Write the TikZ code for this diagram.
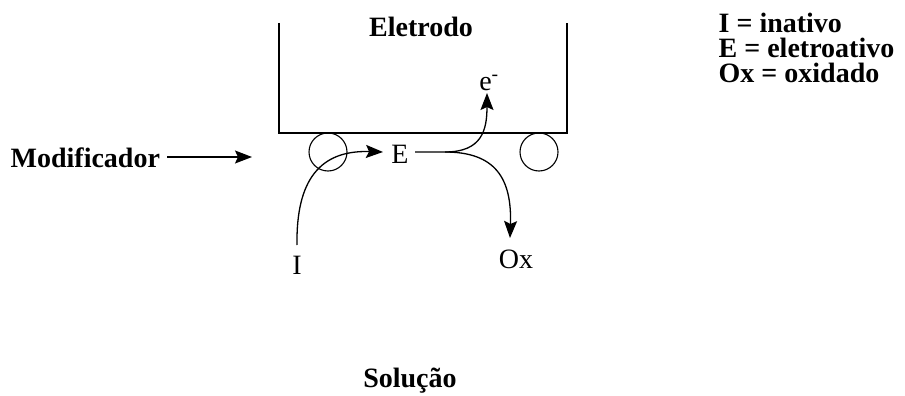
\documentclass[tikz,border=0pt]{standalone}
\usepackage{fontspec}
\setmainfont{Liberation Serif}
\usetikzlibrary{arrows.meta}
\begin{document}
\begin{tikzpicture}[x=1pt,y=-1pt,
  line width=1.3pt,
  bl/.style={font=\fontsize{28}{25}\selectfont\bfseries, inner sep=0pt},
  rl/.style={font=\fontsize{28}{25}\selectfont, inner sep=0pt},
  arr/.style={-{Stealth[length=17pt,width=13pt,inset=3pt]}},
  part/.style={draw, circle, minimum size=38pt, inner sep=0pt, line width=1.1pt}]
\useasboundingbox (0,0) rectangle (905,396);
% electrode
\coordinate (eTL) at (279,23);
\coordinate (eBL) at (279,133);
\coordinate (eBR) at (567,133);
\coordinate (eTR) at (567,23);
\draw (eTL) -- (eBL) -- (eBR) -- (eTR);
\node[bl, anchor=base] (eletrodo) at (421,37) {Eletrodo};
% particles
\node[part] (c1) at (328,152) {};
\node[part] (c2) at (539,152) {};
% labels
\node[bl, anchor=base west] (modif) at (10,167) {Modificador};
\coordinate (modstart) at (167,157);
\coordinate (modend) at (252,157);
\draw[arr] (modstart) -- (modend);
\node[rl, anchor=base] (E) at (400,163) {E};
\node[rl, anchor=base] (em) at (489,90) {e\textsuperscript{-}};
\node[rl, anchor=base] (I) at (297,274) {I};
\node[rl, anchor=base] (Ox) at (516,268) {Ox};
\node[bl, anchor=base west] (leg1) at (718,33) {I = inativo};
\node[bl, anchor=base west] (leg2) at (718,58) {E = eletroativo};
\node[bl, anchor=base west] (leg3) at (718,83) {Ox = oxidado};
\node[bl, anchor=base] (sol) at (410,387) {Solução};
% connectors
\coordinate (Ein) at (383,152);
\coordinate (Eout) at (415,152);
\coordinate (split) at (445,152);
\coordinate (Itop) at (297,245);
\coordinate (emtip) at (487,93);
\coordinate (oxtip) at (510,238);
\draw[arr] (Itop) .. controls (296,180) and (320,150) .. (Ein);
\draw[arr] (Eout) -- (split) .. controls (482,152) and (487,130) .. (emtip);
\draw[arr] (split) .. controls (495,152) and (512,178) .. (oxtip);
\end{tikzpicture}
\end{document}
